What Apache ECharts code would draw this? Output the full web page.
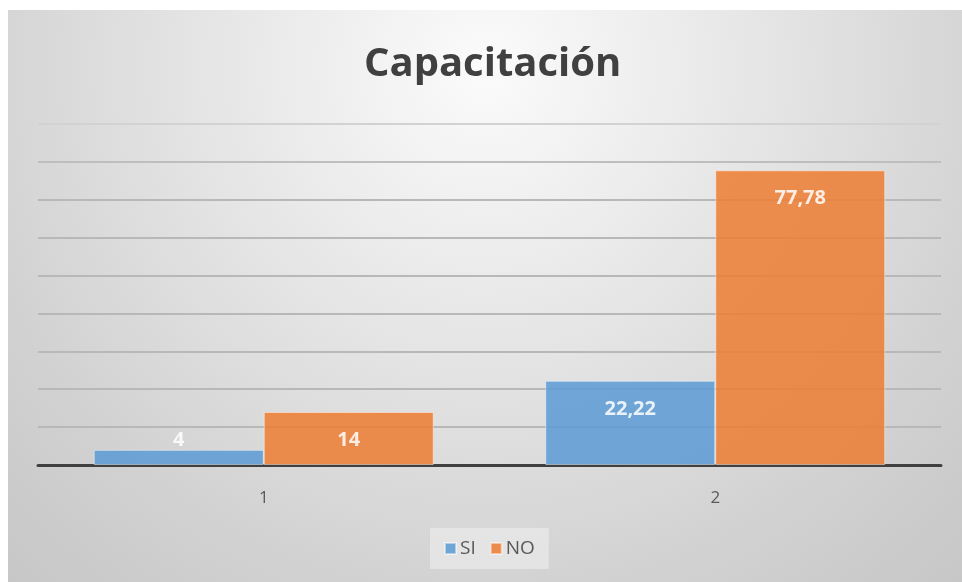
<!DOCTYPE html>
<html>
<head>
<meta charset="utf-8">
<script src="https://cdn.jsdelivr.net/npm/echarts@6/dist/echarts.min.js"></script>
<style>
html,body{margin:0;padding:0;background:#ffffff;}
#chart{width:962px;height:582px;}
</style>
</head>
<body>
<div id="chart"></div>
<script>
const categories = ['1', '2'];
const seriesNames = ['SI', 'NO'];
const siValues = [4, 22.22];
const noValues = [14, 77.78];
const yTicks = [0, 10, 20, 30, 40, 50, 60, 70, 80, 90];

const chart = echarts.init(document.getElementById('chart'));
const fmt = v => String(v).replace('.', ',');
const colors = ['#5B9BD5', '#ED7D31'];

function buildData(values) {
  return values.map(v => v < 8
    ? { value: v, label: { position: 'top', distance: 0 } }
    : { value: v });
}

function barSeries(name, values, color) {
  return {
    name: name,
    type: 'bar',
    barGap: '0%',
    barCategoryGap: '24.7%',
    data: buildData(values),
    itemStyle: { color: color, opacity: 0.85, borderColor: 'rgba(255,255,255,0.55)', borderWidth: 1 },
    label: {
      show: true,
      position: 'insideTop',
      distance: 18,
      color: '#ffffff',
      fontFamily: 'Open Sans',
      fontWeight: 'bold',
      fontSize: 20,
      formatter: p => fmt(p.value)
    },
    emphasis: { disabled: true }
  };
}

const option = {
  animation: false,
  graphic: {
    elements: [{
      type: 'rect',
      z: -10,
      silent: true,
      shape: { x: 8, y: 10, width: 954, height: 572 },
      style: {
        fill: new echarts.graphic.RadialGradient(0.5, 0.1, 1.25, [
          { offset: 0, color: '#fbfbfb' },
          { offset: 0.45, color: '#e2e2e2' },
          { offset: 0.75, color: '#d1d1d1' },
          { offset: 1, color: '#c6c6c6' }
        ])
      }
    }]
  },
  title: {
    text: 'Capacitación',
    left: 364,
    top: 45,
    padding: 0,
    textStyle: { fontFamily: 'Open Sans', fontWeight: 'bold', fontSize: 40, color: '#404040' }
  },
  legend: {
    data: seriesNames,
    left: 430,
    top: 528,
    padding: [11, 14],
    backgroundColor: 'rgba(240,240,240,0.55)',
    itemWidth: 11,
    itemHeight: 11,
    itemGap: 14,
    icon: 'rect',
    textStyle: { fontFamily: 'Open Sans', fontSize: 19, color: '#595959', padding: [0, 0, 0, -1] }
  },
  grid: { left: 38, right: 21, top: 124, bottom: 117 },
  xAxis: {
    type: 'category',
    data: categories,
    axisLine: { lineStyle: { color: '#404040', width: 3 } },
    axisTick: { show: false },
    axisLabel: { margin: 25, fontFamily: 'Open Sans', fontSize: 17, color: '#595959' }
  },
  yAxis: {
    type: 'value',
    min: yTicks[0],
    max: yTicks[yTicks.length - 1],
    interval: yTicks[1] - yTicks[0],
    axisLabel: { show: false },
    axisLine: { show: false },
    axisTick: { show: false },
    splitLine: { lineStyle: { color: ['#b8b8b8','#b8b8b8','#b8b8b8','#b8b8b8','#b8b8b8','#b8b8b8','#b8b8b8','#b8b8b8','#bebebe','#d2d2d2'], width: 2 } }
  },
  color: colors,
  series: [
    barSeries(seriesNames[0], siValues, colors[0]),
    barSeries(seriesNames[1], noValues, colors[1])
  ]
};
chart.setOption(option);
</script>
</body>
</html>
